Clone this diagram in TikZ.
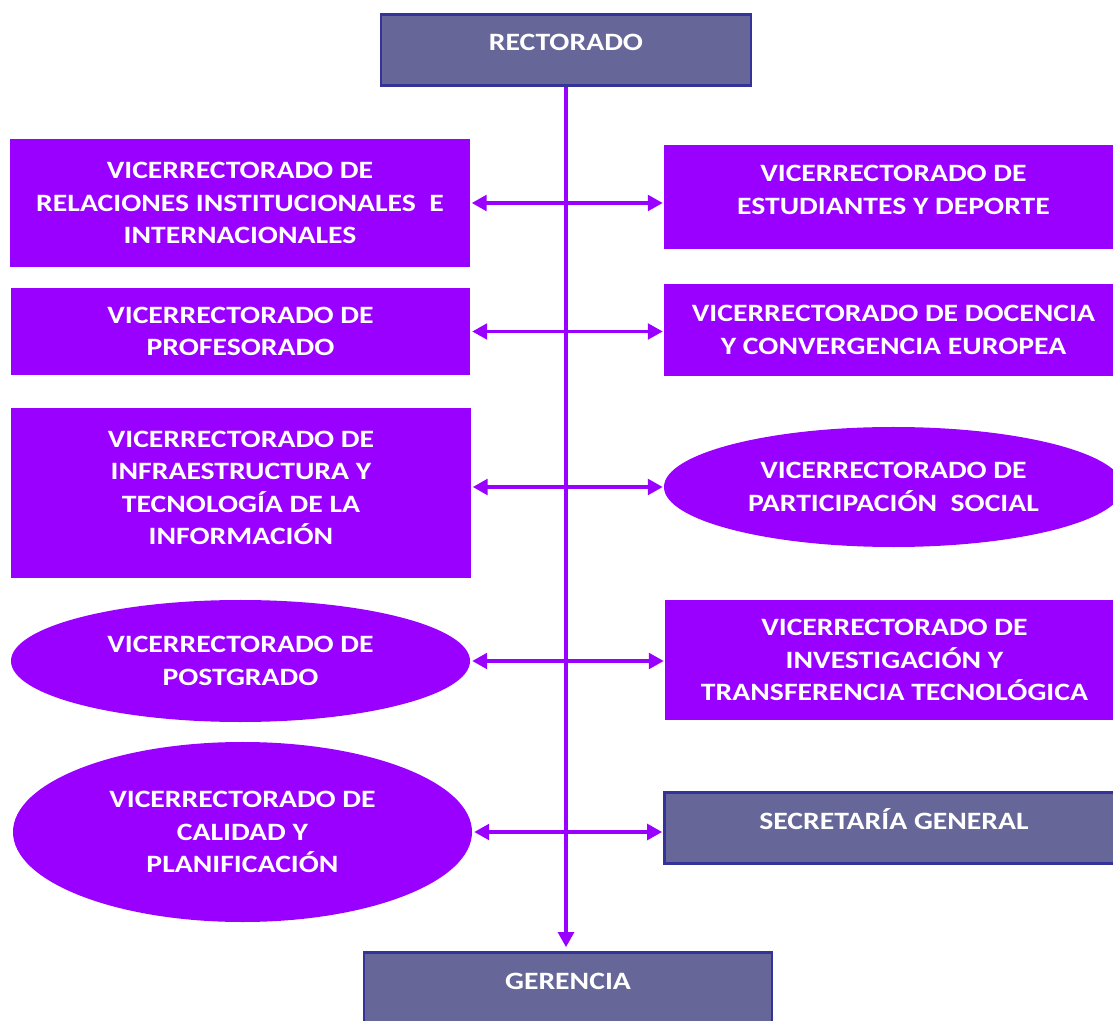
\documentclass[tikz,border=0pt]{standalone}
\usepackage{fontspec}
\setmainfont{Carlito}[FakeStretch=1.19]
\usepackage{xcolor}
\usepackage{tikz}
\usetikzlibrary{shapes.geometric, arrows.meta, calc}
\definecolor{vice}{RGB}{153,0,255}
\definecolor{slate}{RGB}{102,102,153}
\definecolor{slate-border}{RGB}{51,51,153}
\tikzset{
    org/.style = {
        inner sep=0pt, align=center, text=white,
        font=\fontsize{21.3}{27.7}\selectfont\bfseries
    },
    vicebox/.style = {
        org, rectangle, fill=vice,
        minimum width=13.77cm, minimum height=#1
    },
    vicebox/.default={3cm},
    viceoval/.style = {
        org, ellipse, fill=vice,
        minimum width=13.77cm, minimum height=#1
    },
    viceoval/.default={3.6cm},
    slatebox/.style = {
        org, rectangle, fill=slate, draw=slate-border, line width=0.08cm,
        text height=0.54cm, text depth=0.48cm,
        minimum width=#1, minimum height=2.13cm
    },
    link/.style = {
        draw=vice, line width=0.105cm,
        arrows={-Triangle[length=0.45cm, width=0.47cm]}
    },
    twoway/.style = {
        link, arrows={Triangle[length=0.45cm, width=0.47cm]-Triangle[length=0.45cm, width=0.47cm]},
        shorten <=0.06cm, shorten >=0.03cm
    },
}

\begin{document}
\begin{tikzpicture}[x=0.03cm, y=-0.03cm]

\path[use as bounding box, clip] (0,0) rectangle (1113,1021);

\node(rector)[slatebox=11.1cm] at (566,50) {RECTORADO};
\node(gerencia)[slatebox=12.24cm] at (568,988) {GERENCIA};

% left column
\node(relac)[vicebox=3.84cm] at (240,203)
    {VICERRECTORADO DE\\RELACIONES INSTITUCIONALES\ \ E\\INTERNACIONALES};
\node(profes)[vicebox=2.61cm] at (240.5,331.5)
    {VICERRECTORADO DE\\PROFESORADO};
\node(infra)[vicebox=5.1cm, text depth=0.3cm] at (241,493)
    {VICERRECTORADO DE\\INFRAESTRUCTURA Y\\TECNOLOGÍA DE LA\\INFORMACIÓN};
\node(postgr)[viceoval=3.66cm] at (240.5,661)
    {VICERRECTORADO DE\\POSTGRADO};
\node(calidad)[viceoval=5.4cm] at (242.5,832)
    {VICERRECTORADO DE\\CALIDAD Y\\PLANIFICACIÓN};

% right column
\node(estud)[vicebox=3.12cm, text depth=0.42cm] at (893.5,197)
    {VICERRECTORADO DE\\ESTUDIANTES Y DEPORTE};
\node(docen)[vicebox=2.76cm] at (893.5,330)
    {VICERRECTORADO DE DOCENCIA\\Y CONVERGENCIA EUROPEA};
\node(partic)[viceoval=3.6cm] at (893.5,487)
    {VICERRECTORADO DE\\PARTICIPACIÓN\ \ SOCIAL};
\node(invest)[vicebox=3.6cm] at (894.5,660)
    {VICERRECTORADO DE\\INVESTIGACIÓN Y\\TRANSFERENCIA TECNOLÓGICA};
\node(secret)[slatebox=13.77cm] at (894,828) {SECRETARÍA GENERAL};

\draw[link, shorten >=0.12cm] (rector.south) -- (rector.south |- gerencia.north);

\draw[twoway] (relac.east) -- (relac.east -| estud.west);
\draw[twoway] (profes.east) -- (profes.east -| docen.west);
\draw[twoway] (partic.west -| infra.east) -- (partic.west);
\draw[twoway] (postgr.east) -- (postgr.east -| invest.west);
\draw[twoway] (calidad.east) -- (calidad.east -| secret.west);

\end{tikzpicture}
\end{document}
